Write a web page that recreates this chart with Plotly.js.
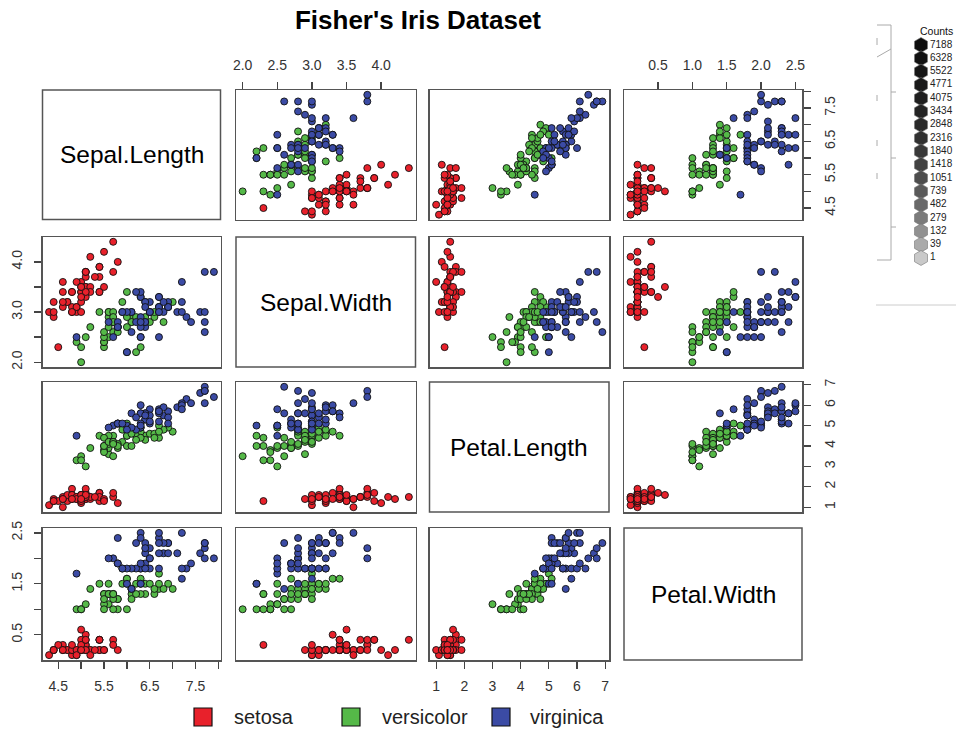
<!DOCTYPE html>
<html><head><meta charset="utf-8">
<script src="https://cdn.plot.ly/plotly-3.0.1.min.js"></script>
<style>body{margin:0;background:#fff}#chart{width:956px;height:730px}</style>
</head><body><div id="chart"></div>
<script>
// ---- data: Fisher's iris, by species ----
const speciesNames = ['setosa', 'versicolor', 'virginica'];
const speciesColors = ['#E8212B', '#55B948', '#3B4BA5'];
const varNames = ['Sepal.Length', 'Sepal.Width', 'Petal.Length', 'Petal.Width'];

const setosaSepalLength = [5.1,4.9,4.7,4.6,5.0,5.4,4.6,5.0,4.4,4.9,5.4,4.8,4.8,4.3,5.8,5.7,5.4,5.1,5.7,5.1,5.4,5.1,4.6,5.1,4.8,5.0,5.0,5.2,5.2,4.7,4.8,5.4,5.2,5.5,4.9,5.0,5.5,4.9,4.4,5.1,5.0,4.5,4.4,5.0,5.1,4.8,5.1,4.6,5.3,5.0];
const setosaSepalWidth = [3.5,3.0,3.2,3.1,3.6,3.9,3.4,3.4,2.9,3.1,3.7,3.4,3.0,3.0,4.0,4.4,3.9,3.5,3.8,3.8,3.4,3.7,3.6,3.3,3.4,3.0,3.4,3.5,3.4,3.2,3.1,3.4,4.1,4.2,3.1,3.2,3.5,3.6,3.0,3.4,3.5,2.3,3.2,3.5,3.8,3.0,3.8,3.2,3.7,3.3];
const setosaPetalLength = [1.4,1.4,1.3,1.5,1.4,1.7,1.4,1.5,1.4,1.5,1.5,1.6,1.4,1.1,1.2,1.5,1.3,1.4,1.7,1.5,1.7,1.5,1.0,1.7,1.9,1.6,1.6,1.5,1.4,1.6,1.6,1.5,1.5,1.4,1.5,1.2,1.3,1.4,1.3,1.5,1.3,1.3,1.3,1.6,1.9,1.4,1.6,1.4,1.5,1.4];
const setosaPetalWidth = [0.2,0.2,0.2,0.2,0.2,0.4,0.3,0.2,0.2,0.1,0.2,0.2,0.1,0.1,0.2,0.4,0.4,0.3,0.3,0.3,0.2,0.4,0.2,0.5,0.2,0.2,0.4,0.2,0.2,0.2,0.2,0.4,0.1,0.2,0.2,0.2,0.2,0.1,0.2,0.2,0.3,0.3,0.2,0.6,0.4,0.3,0.2,0.2,0.2,0.2];

const versicolorSepalLength = [7.0,6.4,6.9,5.5,6.5,5.7,6.3,4.9,6.6,5.2,5.0,5.9,6.0,6.1,5.6,6.7,5.6,5.8,6.2,5.6,5.9,6.1,6.3,6.1,6.4,6.6,6.8,6.7,6.0,5.7,5.5,5.5,5.8,6.0,5.4,6.0,6.7,6.3,5.6,5.5,5.5,6.1,5.8,5.0,5.6,5.7,5.7,6.2,5.1,5.7];
const versicolorSepalWidth = [3.2,3.2,3.1,2.3,2.8,2.8,3.3,2.4,2.9,2.7,2.0,3.0,2.2,2.9,2.9,3.1,3.0,2.7,2.2,2.5,3.2,2.8,2.5,2.8,2.9,3.0,2.8,3.0,2.9,2.6,2.4,2.4,2.7,2.7,3.0,3.4,3.1,2.3,3.0,2.5,2.6,3.0,2.6,2.3,2.7,3.0,2.9,2.9,2.5,2.8];
const versicolorPetalLength = [4.7,4.5,4.9,4.0,4.6,4.5,4.7,3.3,4.6,3.9,3.5,4.2,4.0,4.7,3.6,4.4,4.5,4.1,4.5,3.9,4.8,4.0,4.9,4.7,4.3,4.4,4.8,5.0,4.5,3.5,3.8,3.7,3.9,5.1,4.5,4.5,4.7,4.4,4.1,4.0,4.4,4.6,4.0,3.3,4.2,4.2,4.2,4.3,3.0,4.1];
const versicolorPetalWidth = [1.4,1.5,1.5,1.3,1.5,1.3,1.6,1.0,1.3,1.4,1.0,1.5,1.0,1.4,1.3,1.4,1.5,1.0,1.5,1.1,1.8,1.3,1.5,1.2,1.3,1.4,1.4,1.7,1.5,1.0,1.1,1.0,1.2,1.6,1.5,1.6,1.5,1.3,1.3,1.3,1.2,1.4,1.2,1.0,1.3,1.2,1.3,1.3,1.1,1.3];

const virginicaSepalLength = [6.3,5.8,7.1,6.3,6.5,7.6,4.9,7.3,6.7,7.2,6.5,6.4,6.8,5.7,5.8,6.4,6.5,7.7,7.7,6.0,6.9,5.6,7.7,6.3,6.7,7.2,6.2,6.1,6.4,7.2,7.4,7.9,6.4,6.3,6.1,7.7,6.3,6.4,6.0,6.9,6.7,6.9,5.8,6.8,6.7,6.7,6.3,6.5,6.2,5.9];
const virginicaSepalWidth = [3.3,2.7,3.0,2.9,3.0,3.0,2.5,2.9,2.5,3.6,3.2,2.7,3.0,2.5,2.8,3.2,3.0,3.8,2.6,2.2,3.2,2.8,2.8,2.7,3.3,3.2,2.8,3.0,2.8,3.0,2.8,3.8,2.8,2.8,2.6,3.0,3.4,3.1,3.0,3.1,3.1,3.1,2.7,3.2,3.3,3.0,2.5,3.0,3.4,3.0];
const virginicaPetalLength = [6.0,5.1,5.9,5.6,5.8,6.6,4.5,6.3,5.8,6.1,5.1,5.3,5.5,5.0,5.1,5.3,5.5,6.7,6.9,5.0,5.7,4.9,6.7,4.9,5.7,6.0,4.8,4.9,5.6,5.8,6.1,6.4,5.6,5.1,5.6,6.1,5.6,5.5,4.8,5.4,5.6,5.1,5.1,5.9,5.7,5.2,5.0,5.2,5.4,5.1];
const virginicaPetalWidth = [2.5,1.9,2.1,1.8,2.2,2.1,1.7,1.8,1.8,2.5,2.0,1.9,2.1,2.0,2.4,2.3,1.8,2.2,2.3,1.5,2.3,2.0,2.0,1.8,2.1,1.8,1.8,1.8,2.1,1.6,1.9,2.0,2.2,1.5,1.4,2.3,2.4,1.8,1.8,2.1,2.4,2.3,1.9,2.3,2.5,2.3,1.9,2.0,2.3,1.8];

// ---- tick values / labels ----
const slTicks = [4.5, 5.0, 5.5, 6.0, 6.5, 7.0, 7.5, 8.0];
const slLabels = ['4.5', '', '5.5', '', '6.5', '', '7.5', ''];
const swTicks = [2.0, 2.5, 3.0, 3.5, 4.0];
const swLabelsTop = ['2.0', '2.5', '3.0', '3.5', '4.0'];
const swLabelsSide = ['2.0', '', '3.0', '', '4.0'];
const plTicks = [1, 2, 3, 4, 5, 6, 7];
const plLabels = ['1', '2', '3', '4', '5', '6', '7'];
const pwTicks = [0.5, 1.0, 1.5, 2.0, 2.5];
const pwLabelsTop = ['0.5', '1.0', '1.5', '2.0', '2.5'];
const pwLabelsSide = ['0.5', '', '1.5', '', '2.5'];

// ---- hexbin "Counts" legend ----
const countLabels = ['7188','6328','5522','4771','4075','3434','2848','2316','1840','1418','1051','739','482','279','132','39','1'];
const countGrays = ['#0e0e0e','#121212','#161616','#1a1a1a','#1f1f1f','#242424','#2a2a2a','#313131','#393939','#424242','#4d4d4d','#5a5a5a','#696969','#7b7b7b','#919191','#aaaaaa','#c9c9c9'];

// ---- build ----
const W = 956, H = 730;
const px = x => x / W;
const py = y => 1 - y / H;

const colX0 = [42.5, 236, 429.5, 624];
const colX1 = [220.5, 415.5, 609, 802];
const rowY0 = [90, 237, 382, 528];
const rowY1 = [219.5, 367, 512, 660];

const bySpecies = [
  [setosaSepalLength, setosaSepalWidth, setosaPetalLength, setosaPetalWidth],
  [versicolorSepalLength, versicolorSepalWidth, versicolorPetalLength, versicolorPetalWidth],
  [virginicaSepalLength, virginicaSepalWidth, virginicaPetalLength, virginicaPetalWidth]
];
function rangeOf(v) {
  const all = bySpecies[0][v].concat(bySpecies[1][v], bySpecies[2][v]);
  const mn = Math.min(...all), mx = Math.max(...all);
  const pad = 0.04 * (mx - mn);
  return [mn - pad, mx + pad];
}
const ranges = [0, 1, 2, 3].map(rangeOf);
const varTicks = [slTicks, swTicks, plTicks, pwTicks];
const labelsAlong = [slLabels, swLabelsTop, plLabels, pwLabelsTop]; // top/bottom
const labelsSide = [slLabels, swLabelsSide, plLabels, pwLabelsSide];  // left/right

const boxColor = '#555555';
const fam = 'Liberation Sans, Arial, sans-serif';
const tickFont = {family: fam, size: 14, color: '#333'};

const data = [];
const layout = {
  width: W, height: H,
  margin: {l: 0, r: 0, t: 0, b: 0},
  paper_bgcolor: '#fff', plot_bgcolor: '#fff',
  showlegend: false,
  title: {
    text: "<b>Fisher's Iris Dataset</b>",
    x: px(418), xanchor: 'center', y: py(20), yanchor: 'middle',
    font: {family: fam, size: 26, color: '#000'}
  },
  shapes: [], annotations: []
};

function baseAxis() {
  return {
    showline: true, mirror: true, linecolor: boxColor, linewidth: 1.5,
    showgrid: false, zeroline: false, fixedrange: true,
    ticks: '', showticklabels: false
  };
}

let n = 0;
for (let i = 0; i < 4; i++) {
  for (let j = 0; j < 4; j++) {
    if (i === j) {
      layout.shapes.push({type: 'rect', xref: 'paper', yref: 'paper',
        x0: px(colX0[j]), x1: px(colX1[j]), y0: py(rowY1[i]), y1: py(rowY0[i]),
        line: {color: boxColor, width: 1.5}, fillcolor: 'rgba(0,0,0,0)'});
      layout.annotations.push({xref: 'paper', yref: 'paper',
        x: px((colX0[j] + colX1[j]) / 2), y: py((rowY0[i] + rowY1[i]) / 2),
        text: varNames[i], showarrow: false, xanchor: 'center', yanchor: 'middle',
        font: {family: fam, size: 24.5, color: '#000'}});
      continue;
    }
    n++;
    const xa = 'xaxis' + (n === 1 ? '' : n), ya = 'yaxis' + (n === 1 ? '' : n);
    const xr = 'x' + (n === 1 ? '' : n), yr = 'y' + (n === 1 ? '' : n);
    const ax = baseAxis(), ay = baseAxis();
    ax.domain = [px(colX0[j]), px(colX1[j])];
    ax.range = ranges[j];
    ax.anchor = yr;
    ay.domain = [py(rowY1[i]), py(rowY0[i])];
    ay.range = ranges[i];
    ay.anchor = xr;
    if ((i === 0 && j % 2 === 1) || (i === 3 && j % 2 === 0)) {
      Object.assign(ax, {ticks: 'outside', ticklen: 7, tickwidth: 1.3, tickcolor: '#444',
        showticklabels: true, tickmode: 'array', tickvals: varTicks[j], ticktext: labelsAlong[j],
        tickfont: tickFont, side: i === 0 ? 'top' : 'bottom', tickangle: 0, ticklabelstandoff: 6});
    }
    if ((j === 0 && i % 2 === 1) || (j === 3 && i % 2 === 0)) {
      Object.assign(ay, {ticks: 'outside', ticklen: 7, tickwidth: 1.3, tickcolor: '#444',
        showticklabels: true, tickmode: 'array', tickvals: varTicks[i], ticktext: labelsSide[i],
        tickfont: tickFont, side: j === 0 ? 'left' : 'right', tickangle: -90,
        ticklabelstandoff: j === 0 ? 6 : 8});
    }
    layout[xa] = ax; layout[ya] = ay;
    for (let s = 0; s < 3; s++) {
      data.push({
        type: 'scatter', mode: 'markers', xaxis: xr, yaxis: yr,
        x: bySpecies[s][j], y: bySpecies[s][i], name: speciesNames[s],
        marker: {size: 7, color: speciesColors[s], line: {color: '#111', width: 0.9}},
        hoverinfo: 'x+y+name', cliponaxis: false
      });
    }
  }
}

// hexbin counts legend (separate axis)
const hx = 'x13', hy = 'y13';
layout.xaxis13 = {domain: [px(900), px(956)], range: [-22, 34], visible: false, fixedrange: true, anchor: hy};
layout.yaxis13 = {domain: [py(270), py(30)], range: [(270 - 45) / 13.31, (30 - 45) / 13.31], visible: false, fixedrange: true, anchor: hx};
data.push({
  type: 'scatter', mode: 'markers', xaxis: hx, yaxis: hy,
  x: countLabels.map(() => -1), y: countLabels.map((_, k) => k),
  marker: {symbol: 'hexagon', size: 15, color: countGrays, line: {color: '#777', width: 0.6}},
  hoverinfo: 'skip', cliponaxis: false
});
data.push({
  type: 'scatter', mode: 'text', xaxis: hx, yaxis: hy,
  x: countLabels.map(() => 8), y: countLabels.map((_, k) => k),
  text: countLabels, textposition: 'middle right',
  textfont: {family: fam, size: 10, color: '#222'},
  marker: {size: 2, opacity: 0},
  hoverinfo: 'text', cliponaxis: false
});
layout.annotations.push({xref: 'paper', yref: 'paper', x: px(936), y: py(31),
  text: 'Counts', showarrow: false, xanchor: 'center', yanchor: 'middle',
  font: {family: fam, size: 10.5, color: '#111'}});

// bracket decoration next to the counts legend
const grayLine = {color: '#aaaaaa', width: 1};
function seg(x0, y0, x1, y1, c) {
  layout.shapes.push({type: 'line', xref: 'paper', yref: 'paper',
    x0: px(x0), y0: py(y0), x1: px(x1), y1: py(y1), line: c || grayLine});
}
seg(891, 25, 891, 260);
seg(877, 25, 891, 25);
seg(877, 260, 891, 260);
seg(891, 92, 896, 92);
seg(891, 158, 896, 158);
seg(891, 227, 896, 227);
seg(877, 38, 877, 45);
seg(877, 95, 877, 101);
seg(877, 140, 877, 146);
seg(877, 173, 877, 179);
seg(877, 57, 891, 49);
seg(876, 305, 956, 305, {color: '#cccccc', width: 1});

// bottom legend
const legendSqX = [203, 351, 501];
const legendTxtX = [232, 380, 528];
for (let s = 0; s < 3; s++) {
  layout.shapes.push({type: 'rect', xref: 'paper', yref: 'paper',
    x0: px(legendSqX[s] - 9), x1: px(legendSqX[s] + 9), y0: py(726), y1: py(708),
    fillcolor: speciesColors[s], line: {color: '#111', width: 1.2}});
  layout.annotations.push({xref: 'paper', yref: 'paper', x: px(legendTxtX[s]), y: py(717),
    text: speciesNames[s], showarrow: false, xanchor: 'left', yanchor: 'middle',
    font: {family: fam, size: 20, color: '#222'}});
}

Plotly.newPlot('chart', data, layout, {displayModeBar: false, staticPlot: true});
</script>
</body></html>
